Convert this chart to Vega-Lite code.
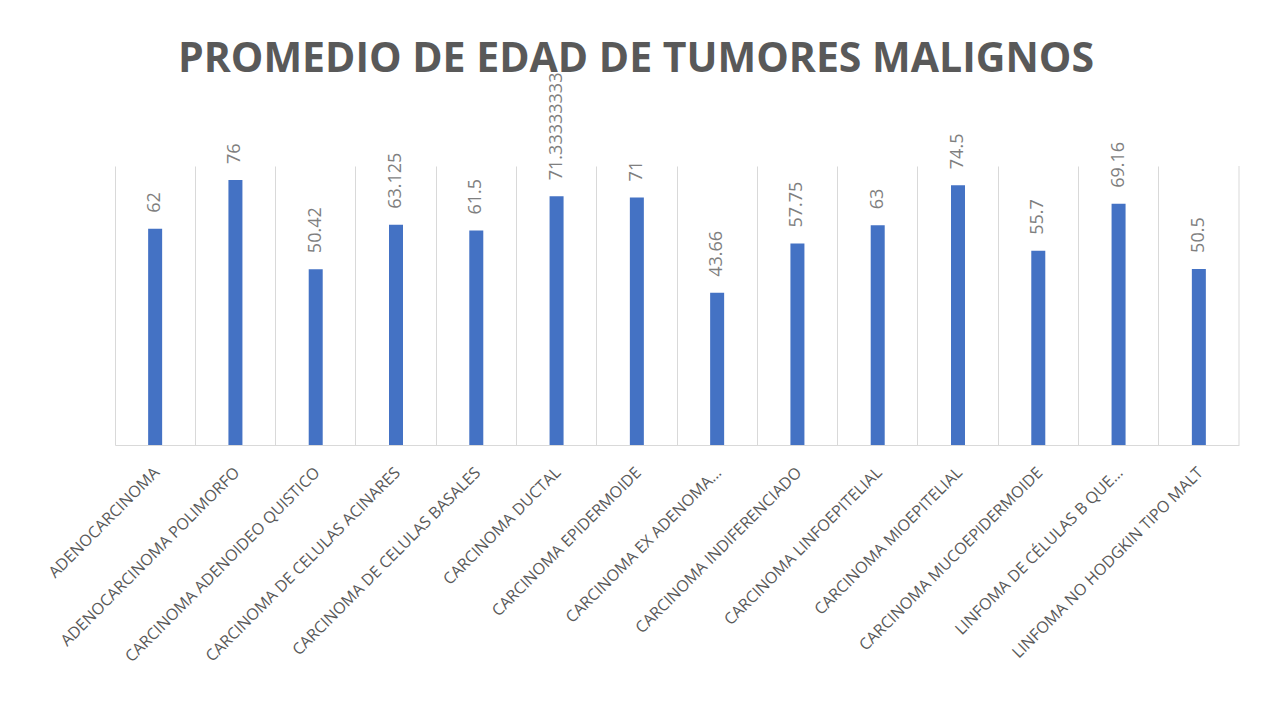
{
  "$schema": "https://vega.github.io/schema/vega-lite/v6.json",
  "width": 1124,
  "height": 279,
  "autosize": {"type": "none"},
  "padding": {"left": 115, "top": 166, "right": 30, "bottom": 266},
  "background": "white",
  "title": {
    "text": "PROMEDIO DE EDAD DE TUMORES MALIGNOS",
    "font": "Open Sans",
    "fontSize": 41,
    "fontWeight": "bold",
    "color": "#595959",
    "anchor": "middle",
    "offset": -8,
    "dx": -41
  },
  "data": {
    "values": [
      {"tumor": "ADENOCARCINOMA", "edad": 62},
      {"tumor": "ADENOCARCINOMA POLIMORFO", "edad": 76},
      {"tumor": "CARCINOMA ADENOIDEO QUISTICO", "edad": 50.42},
      {"tumor": "CARCINOMA DE CELULAS ACINARES", "edad": 63.125},
      {"tumor": "CARCINOMA DE CELULAS BASALES", "edad": 61.5},
      {"tumor": "CARCINOMA DUCTAL", "edad": 71.33333333},
      {"tumor": "CARCINOMA EPIDERMOIDE", "edad": 71},
      {"tumor": "CARCINOMA EX ADENOMA…", "edad": 43.66},
      {"tumor": "CARCINOMA INDIFERENCIADO", "edad": 57.75},
      {"tumor": "CARCINOMA LINFOEPITELIAL", "edad": 63},
      {"tumor": "CARCINOMA MIOEPITELIAL", "edad": 74.5},
      {"tumor": "CARCINOMA MUCOEPIDERMOIDE", "edad": 55.7},
      {"tumor": "LINFOMA DE CÉLULAS B QUE…", "edad": 69.16},
      {"tumor": "LINFOMA NO HODGKIN TIPO MALT", "edad": 50.5}
    ]
  },
  "encoding": {
    "x": {
      "field": "tumor",
      "type": "nominal",
      "sort": null,
      "scale": {"paddingInner": 0, "paddingOuter": 0},
      "axis": {
        "title": null,
        "bandPosition": 0,
        "labelOffset": -4,
        "grid": true,
        "gridColor": "#d9d9d9",
        "gridWidth": 1,
        "ticks": false,
        "domainColor": "#d9d9d9",
        "domainWidth": 1,
        "labelAngle": -45,
        "labelAlign": "right",
        "labelBaseline": "top",
        "labelPadding": 19,
        "labelFont": "Open Sans",
        "labelFontSize": 16,
        "labelColor": "#595959",
        "labelLimit": 500
      }
    }
  },
  "layer": [
    {
      "mark": {"type": "bar", "width": 14, "color": "#4472C4"},
      "encoding": {
        "y": {"field": "edad", "type": "quantitative", "scale": {"domain": [0, 80]}, "axis": null}
      }
    },
    {
      "mark": {
        "type": "text",
        "angle": 270,
        "align": "left",
        "baseline": "middle",
        "dx": 16,
        "font": "Open Sans",
        "fontSize": 18,
        "color": "#7f7f7f"
      },
      "encoding": {
        "y": {"field": "edad", "type": "quantitative", "scale": {"domain": [0, 80]}},
        "text": {"field": "edad", "type": "nominal"}
      }
    },
    {
      "transform": [{"filter": "datum.tumor == 'LINFOMA NO HODGKIN TIPO MALT'"}],
      "mark": {"type": "rule", "color": "#d9d9d9", "strokeWidth": 1},
      "encoding": {
        "x": {"field": "tumor", "type": "nominal", "sort": null, "bandPosition": 1}
      }
    }
  ],
  "config": {"view": {"stroke": null}}
}
